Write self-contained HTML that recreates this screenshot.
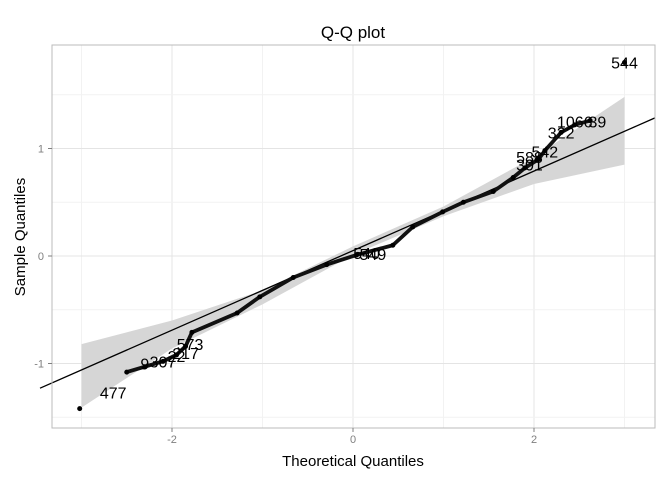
<!DOCTYPE html>
<html><head><meta charset="utf-8"><style>
body{margin:0;background:#fff;font-family:"Liberation Sans",sans-serif}
</style></head><body>
<svg id="c" width="672" height="480" xmlns="http://www.w3.org/2000/svg" font-family="Liberation Sans, sans-serif">
<rect width="672" height="480" fill="#fff"/>
<g id="grid"></g><g id="band"></g><g id="pts"></g><g id="lbl"></g>
<rect x="52" y="45" width="603" height="383" fill="none" stroke="#bbb"/>
<text x="353" y="38" text-anchor="middle" font-size="17">Q-Q plot</text>
<text x="353" y="466" text-anchor="middle" font-size="15">Theoretical Quantiles</text>
<text transform="translate(25,237) rotate(-90)" text-anchor="middle" font-size="15">Sample Quantiles</text>
<g id="ticks"></g>
</svg>
<script>
const xTicks=[-2,0,2];
const yTicks=[-1,0,1];
const theo=[-3.02,-2.5,-2.3,-2.1,-1.95,-1.85,-1.78,-1.28,-1.03,-0.66,-0.29,0.04,0.44,0.66,0.99,1.22,1.55,1.77,1.9,2.05,2.12,2.3,2.45,2.62,3.0];
const samp=[-1.42,-1.08,-1.03,-0.98,-0.92,-0.84,-0.71,-0.53,-0.38,-0.20,-0.08,0.01,0.10,0.27,0.41,0.50,0.60,0.73,0.82,0.90,0.98,1.15,1.22,1.26,1.8];
const lineIntercept=0.05, lineSlope=0.37;
const bandX=[-3,-2,-1,0,1,2,3];
const bandLo=[-1.41,-0.86,-0.45,0.01,0.37,0.67,0.85];
const bandHi=[-0.82,-0.6,-0.32,0.09,0.46,0.92,1.48];
const labelNames=["544","1066","39","322","542","588","301","573","477","9","307","217","540","549","22"];
const labelX=[3.0,2.45,2.7,2.3,2.12,1.95,1.95,-1.8,-2.65,-2.3,-2.1,-1.85,0.15,0.22,-1.95];
const labelY=[1.8,1.25,1.25,1.15,0.97,0.92,0.85,-0.82,-1.27,-1.0,-0.98,-0.9,0.03,0.02,-0.93];
const X=v=>353+v*90.5, Y=v=>256-v*107.5;
const NS="http://www.w3.org/2000/svg";
function mk(t,a,p){const e=document.createElementNS(NS,t);for(const k in a)e.setAttribute(k,a[k]);document.getElementById(p).appendChild(e);return e;}
for(let v=-3;v<=3;v+=1){const e=mk('line',{x1:X(v),x2:X(v),y1:45,y2:428,stroke:v%2===0?'#e4e4e4':'#f2f2f2'},'grid');

}
for(let v=-1.5;v<=1.5;v+=0.5){const e=mk('line',{x1:52,x2:655,y1:Y(v),y2:Y(v),stroke:Number.isInteger(v)?'#e4e4e4':'#f2f2f2'},'grid');

}
let d='M'+bandX.map((x,i)=>X(x)+','+Y(bandHi[i])).join('L')+'L'+bandX.map((x,i)=>X(x)+','+Y(bandLo[i])).reverse().join('L')+'Z';
const b=mk('path',{d:d,fill:'#d6d6d6'},'band');


const x0=(40-353)/90.5,x1=(655-353)/90.5;
const l=mk('line',{x1:40,x2:655,y1:Y(lineIntercept+lineSlope*x0),y2:Y(lineIntercept+lineSlope*x1),stroke:'#000','stroke-width':1.3},'band');


const pth=mk('path',{d:'M'+theo.slice(1,-1).map((t,i)=>X(t)+','+Y(samp[i+1])).join('L'),fill:'none',stroke:'#111','stroke-width':3.8,'stroke-linejoin':'round','stroke-linecap':'round'},'pts');


theo.forEach((t,i)=>{const c=mk('circle',{cx:X(t),cy:Y(samp[i]),r:2.5,fill:'#000'},'pts');

});
labelNames.forEach((n,i)=>{const e=mk('text',{x:X(labelX[i]),y:Y(labelY[i])+6,'text-anchor':'middle','font-size':16},'lbl');e.textContent=n;

});
xTicks.forEach(v=>{const e=mk('text',{x:X(v),y:443,'text-anchor':'middle','font-size':11,fill:'#7f7f7f'},'ticks');e.textContent=v;


mk('line',{x1:X(v),x2:X(v),y1:428,y2:432,stroke:'#7f7f7f'},'ticks');});
yTicks.forEach(v=>{const e=mk('text',{x:44,y:Y(v)+4,'text-anchor':'end','font-size':11,fill:'#7f7f7f'},'ticks');e.textContent=v;


mk('line',{x1:48,x2:52,y1:Y(v),y2:Y(v),stroke:'#7f7f7f'},'ticks');});
</script>
</body></html>
